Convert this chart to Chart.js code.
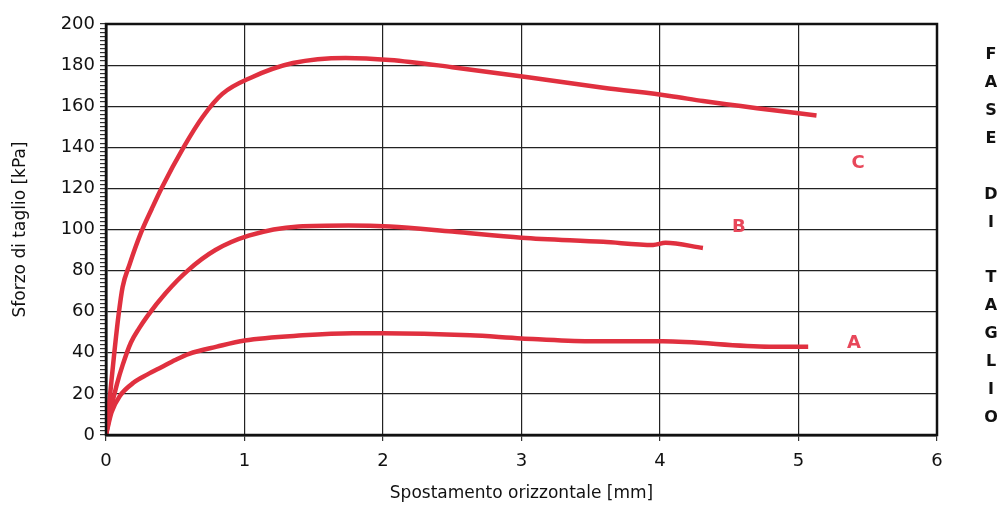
<!DOCTYPE html>
<html>
<head>
<meta charset="utf-8">
<script src="https://cdn.jsdelivr.net/npm/chart.js@4.4.1/dist/chart.umd.min.js"></script>
<style>
  html, body { margin: 0; padding: 0; background: #fff; }
  #wrap { width: 998px; height: 510px; position: relative; }
</style>
</head>
<body>
<div id="wrap"><canvas id="shearChart"></canvas></div>
<script>
// curve A
const xA = [0, 0.04, 0.1, 0.2, 0.3, 0.4, 0.5, 0.6, 0.8, 1.0, 1.42, 1.78, 2.0, 2.63, 3.0, 3.49, 4.02, 4.79, 5.07];
const yA = [0, 11, 19, 25.5, 29.5, 33, 36.5, 39.5, 43, 46, 48.5, 49.5, 49.5, 48.5, 47, 45.6, 45.6, 43, 43];
// curve B
const xB = [0, 0.04, 0.08, 0.12, 0.18, 0.24, 0.3, 0.43, 0.59, 0.79, 1.03, 1.39, 1.75, 2.05, 2.5, 3.0, 3.59, 3.95, 4.04, 4.31];
const yB = [0, 14, 25, 34, 45, 52, 58, 69, 80, 90, 97, 101.5, 102, 101.5, 99, 96, 94, 92.5, 93.5, 91];
// curve C
const xC = [0, 0.03, 0.06, 0.09, 0.12, 0.17, 0.25, 0.33, 0.4, 0.56, 0.7, 0.84, 1.05, 1.35, 1.73, 2.05, 2.5, 3.06, 3.59, 4.07, 4.31, 4.7, 5.13];
const yC = [0, 20, 40, 58, 72, 83, 98, 110, 120, 140, 155, 166, 174, 181, 183.5, 182.5, 179, 174, 169, 165, 162.5, 159, 155.5];

const curveNames = ['A', 'B', 'C'];
const labelX = [5.4, 4.57, 5.43];
const labelY = [44.6, 101, 132];

const sideText = ['F', 'A', 'S', 'E', '', 'D', 'I', '', 'T', 'A', 'G', 'L', 'I', 'O'];

const lineColor = '#e0303f';
const labelColor = '#e8475a';
const font = 'DejaVu Sans';

function pts(xs, ys) {
    return xs.map((x, i) => ({ x: x, y: ys[i] }));
}

const series = [pts(xA, yA), pts(xB, yB), pts(xC, yC)];

const frameAndLabels = {
    id: 'frameAndLabels',
    afterDraw(chart) {
        const ctx = chart.ctx;
        const a = chart.chartArea;
        const xs = chart.scales.x, ys = chart.scales.y;
        ctx.save();
        ctx.strokeStyle = '#111';
        ctx.lineWidth = 2.5;
        ctx.strokeRect(a.left, a.top, a.right - a.left, a.bottom - a.top);

        ctx.fillStyle = labelColor;
        ctx.font = 'bold 18px ' + font;
        ctx.textAlign = 'center';
        ctx.textBaseline = 'middle';
        curveNames.forEach((n, i) => {
            ctx.fillText(n, xs.getPixelForValue(labelX[i]), ys.getPixelForValue(labelY[i]));
        });

        ctx.fillStyle = '#111';
        ctx.font = 'bold 16px ' + font;
        sideText.forEach((c, i) => {
            if (c) ctx.fillText(c, 991, 55 + i * 27.9);
        });
        ctx.restore();
    }
};

const config = {
    type: 'scatter',
    data: {
        datasets: series.map((d, i) => ({
            label: curveNames[i],
            data: d,
            showLine: true,
            borderColor: lineColor,
            borderWidth: 4.5,
            pointRadius: 0,
            cubicInterpolationMode: 'monotone',
            fill: false
        }))
    },
    options: {
        responsive: true,
        maintainAspectRatio: false,
        animation: false,
        layout: { padding: { top: 24, right: 61, left: 0, bottom: 0 } },
        plugins: {
            legend: { display: false },
            tooltip: { enabled: false }
        },
        scales: {
            x: {
                type: 'linear',
                min: 0,
                max: 6,
                afterFit(scale) { scale.height = 75; },
                border: { color: '#111', width: 2.5 },
                grid: { color: '#222', lineWidth: 1.2, tickLength: 6, tickColor: '#333' },
                ticks: {
                    stepSize: 1,
                    color: '#111',
                    padding: 10,
                    font: { family: font, size: 18 }
                },
                title: {
                    display: true,
                    text: 'Spostamento orizzontale [mm]',
                    color: '#111',
                    font: { family: font, size: 17 },
                    padding: { top: 0, bottom: 6 }
                }
            },
            y: {
                min: 0,
                max: 200,
                afterFit(scale) { scale.width = 106; },
                border: { color: '#111', width: 2.5 },
                grid: {
                    color: ctx => (ctx.tick && ctx.tick.value % 20 === 0) ? '#222' : 'rgba(0,0,0,0)',
                    tickColor: '#333',
                    lineWidth: 1.2,
                    tickLength: 6
                },
                ticks: {
                    stepSize: 2,
                    autoSkip: false,
                    color: '#111',
                    padding: 5,
                    font: { family: font, size: 18 },
                    callback: v => (v % 20 === 0 ? v : '')
                },
                title: {
                    display: true,
                    text: 'Sforzo di taglio [kPa]',
                    color: '#111',
                    font: { family: font, size: 17 },
                    padding: { top: 10, bottom: 0 }
                }
            }
        }
    },
    plugins: [frameAndLabels]
};

new Chart(document.getElementById('shearChart').getContext('2d'), config);
</script>
</body>
</html>
